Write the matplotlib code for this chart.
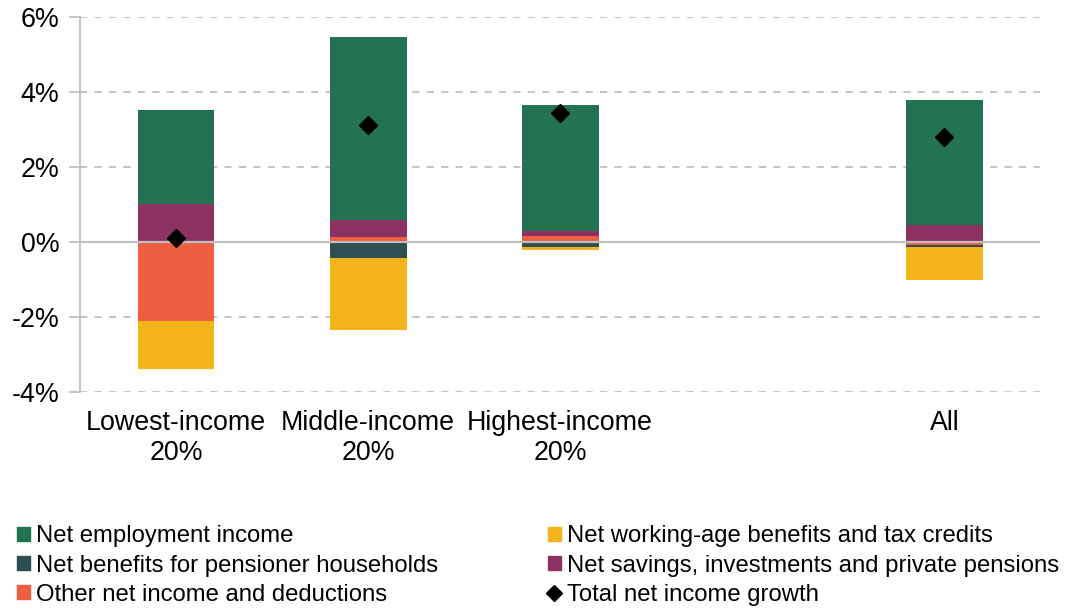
"""Stacked contributions to net income growth by income group."""

import matplotlib

matplotlib.use("Agg")
import matplotlib.pyplot as plt
import numpy as np
from matplotlib.lines import Line2D
from matplotlib.patches import Patch

plt.rcParams["font.family"] = ["Liberation Sans", "DejaVu Sans"]

categories = ["Lowest-income\n20%", "Middle-income\n20%", "Highest-income\n20%", "", "All"]

# values in percentage points, None for the empty slot
employment = [2.50, 4.87, 3.36, None, 3.33]
working_age = [-1.28, -1.91, -0.08, None, -0.86]
pensioner = [0.0, -0.42, -0.13, None, -0.07]
savings = [1.01, 0.46, 0.12, None, 0.46]
other = [-2.11, 0.14, 0.17, None, -0.07]
total = [0.10, 3.12, 3.44, None, 2.81]

series = [
    ("Other net income and deductions", other, "#ee5e41"),
    ("Net benefits for pensioner households", pensioner, "#2e4f53"),
    ("Net savings, investments and private pensions", savings, "#8c3262"),
    ("Net working-age benefits and tax credits", working_age, "#f2b41a"),
    ("Net employment income", employment, "#237353"),
]

x = np.arange(len(categories))
fig, ax = plt.subplots(figsize=(10.67, 6.09), dpi=100)
fig.subplots_adjust(left=0.075, right=0.975, top=0.972, bottom=0.356)

pos_base = np.zeros(len(x))
neg_base = np.zeros(len(x))
handles = {}
for name, vals, color in series:
    for i, v in enumerate(vals):
        if v is None or v == 0:
            continue
        if v > 0:
            ax.bar(x[i], v, 0.4, bottom=pos_base[i], color=color, zorder=3)
            pos_base[i] += v
        else:
            ax.bar(x[i], v, 0.4, bottom=neg_base[i], color=color, zorder=3)
            neg_base[i] += v
    handles[name] = Patch(color=color)

tx = [xi for xi, t in zip(x, total) if t is not None]
ty = [t for t in total if t is not None]
ax.plot(tx, ty, "D", color="black", markersize=9.5, linestyle="none", zorder=5)
handles["Total net income growth"] = Line2D([], [], marker="D", color="black",
                                           linestyle="none", markersize=8)

ax.set_xlim(-0.5, 4.5)
ax.set_ylim(-4, 6)
ax.set_yticks([-4, -2, 0, 2, 4, 6])
ax.set_yticklabels(["-4%", "-2%", "0%", "2%", "4%", "6%"], fontsize=19.3)
for y in [-4, -2, 2, 4, 6]:
    ax.axhline(y, color="#bfbfbf", linestyle=(0, (4, 4)), linewidth=1.3, zorder=1)
ax.axhline(0, color="#bfbfbf", linewidth=1.6, zorder=4)

ax.set_xticks(x)
ax.set_xticklabels(categories, fontsize=19.3)
ax.tick_params(axis="x", length=0, pad=13)
ax.tick_params(axis="y", length=8, color="#bfbfbf", width=1.3, pad=7)
for side in ["top", "right", "bottom"]:
    ax.spines[side].set_visible(False)
ax.spines["left"].set_color("#bfbfbf")
ax.spines["left"].set_linewidth(1.3)

order = [
    "Net employment income",
    "Net benefits for pensioner households",
    "Other net income and deductions",
    "Net working-age benefits and tax credits",
    "Net savings, investments and private pensions",
    "Total net income growth",
]
fig.legend([handles[k] for k in order], order, ncol=2, loc="lower left",
           bbox_to_anchor=(0.0, -0.022), borderaxespad=0, borderpad=0.7,
           frameon=False, fontsize=17.2,
           handlelength=0.55, handleheight=0.55, handletextpad=0.25,
           columnspacing=4.6, labelspacing=0.3)

fig.savefig("out.png", dpi=100)
